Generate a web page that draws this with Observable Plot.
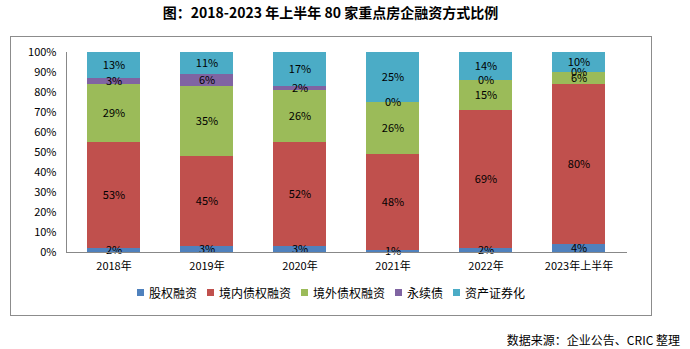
<!DOCTYPE html>
<html><head><meta charset="utf-8">
<script src="https://cdn.jsdelivr.net/npm/d3@7"></script>
<script src="https://cdn.jsdelivr.net/npm/@observablehq/plot@0.6"></script>
<style>
body{margin:0;background:#fff;width:690px;height:349px;position:relative;overflow:hidden;font-family:"SimSun","Noto Sans CJK SC",sans-serif;}
#title{position:absolute;left:10px;width:641px;top:2px;text-align:center;font-size:14px;font-weight:bold;color:#000;}
#box{position:absolute;left:10px;top:36px;width:640px;height:278px;border:1px solid #8c8c8c;}
#chart{position:absolute;left:0;top:0;}
#legend{position:absolute;left:0;width:640px;top:247px;display:flex;justify-content:center;gap:10px;font-size:12px;color:#000;}
#legend span.item{display:flex;align-items:center;}
#legend i{display:inline-block;width:7px;height:7px;margin-right:5px;}
#caption{position:absolute;right:10px;top:331px;font-size:12px;color:#000;}
</style></head>
<body>
<div id="title">图：2018-2023 年上半年 80 家重点房企融资方式比例</div>
<div id="box"><div id="chart"></div><div id="legend"></div></div>
<div id="caption">数据来源：企业公告、CRIC 整理</div>
<script>
const years = ["2018年","2019年","2020年","2021年","2022年","2023年上半年"];
const seriesNames = ["股权融资","境内债权融资","境外债权融资","永续债","资产证券化"];
const colors = ["#4F81BD","#C0504D","#9BBB59","#8064A2","#4BACC6"];
const equity   = [2,3,3,1,2,4];
const domestic = [53,45,52,48,69,80];
const overseas = [29,35,26,26,15,6];
const perpetual= [3,6,2,0,0,0];
const abs      = [13,11,17,25,14,10];
const yTicks = [0,10,20,30,40,50,60,70,80,90,100];

const seriesValues = [equity, domestic, overseas, perpetual, abs];
const data = [];
years.forEach((y, i) => {
  seriesNames.forEach((s, j) => data.push({year: y, series: s, value: seriesValues[j][i]}));
});

const chart = Plot.plot({
  width: 640, height: 240,
  marginTop: 15, marginBottom: 25, marginLeft: 55, marginRight: 24,
  style: {fontFamily: '"SimSun","Noto Sans CJK SC",sans-serif', fontSize: "11px", color: "#000", background: "transparent"},
  x: {domain: years, paddingInner: 0.43, paddingOuter: 0.215, label: null, tickSize: 0, tickPadding: 10},
  y: {domain: [0, 100], ticks: yTicks, tickFormat: d => d + "%", label: null, tickSize: 0, tickPadding: 10},
  color: {domain: seriesNames, range: colors},
  marks: [
    Plot.barY(data, Plot.stackY({x: "year", y: "value", z: "series", fill: "series", order: seriesNames})),
    Plot.text(data, Plot.stackY({x: "year", y: "value", z: "series", text: d => d.value + "%", order: seriesNames, fill: "#000", fontSize: 11})),
    Plot.ruleY([0], {stroke: "#888"}),
    Plot.frame({anchor: "left", stroke: "#888"})
  ]
});
document.getElementById("chart").appendChild(chart);

const lg = document.getElementById("legend");
seriesNames.forEach((s, j) => {
  const it = document.createElement("span");
  it.className = "item";
  it.innerHTML = `<i style="background:${colors[j]}"></i>${s}`;
  lg.appendChild(it);
});
</script>
</body></html>
